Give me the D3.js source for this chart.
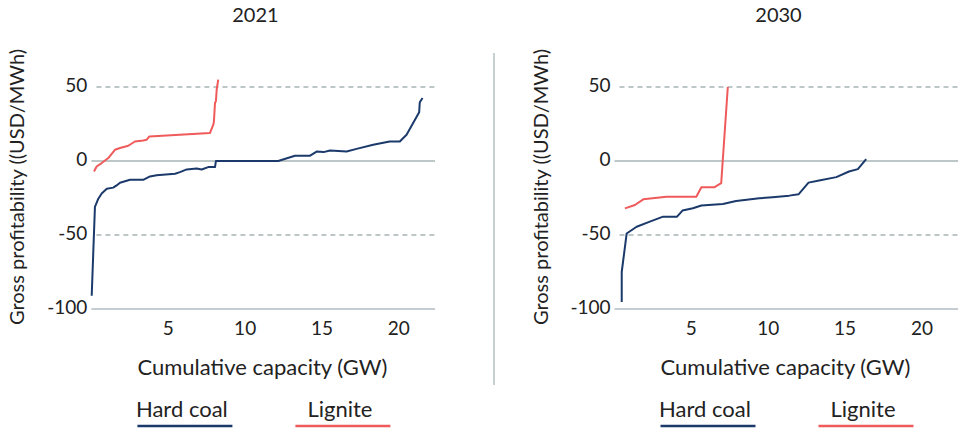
<!DOCTYPE html>
<html>
<head>
<meta charset="utf-8">
<script src="https://cdn.jsdelivr.net/npm/d3@7"></script>
<style>
  html, body { margin: 0; padding: 0; background: #fff; }
  svg { display: block; }
  text { font-family: Lato, "Open Sans", sans-serif; fill: #222; }
</style>
</head>
<body>
<svg id="chart" width="965" height="430"></svg>
<script>
// Cumulative capacity (GW) vs gross profitability (USD/MWh), plants sorted by profitability
const years = ["2021", "2030"];
const xTicks = [5, 10, 15, 20];
const yTicks = [50, 0, -50, -100];
const seriesNames = ["Hard coal", "Lignite"];
const seriesColors = ["#1b3a6b", "#ef5a5b"];

const hardCoal2021X = [0.02, 0.23, 0.45, 0.67, 1.0, 1.42, 1.64, 1.86, 2.51, 3.37, 3.81, 4.24, 5.44, 5.76, 6.2, 6.85, 7.17, 7.6, 8.04, 8.1, 12.15, 13.24, 14.2, 14.65, 15.1, 15.52, 16.6, 17.25, 18.33, 19.4, 20.06, 20.5, 21.32, 21.36, 21.54];
const hardCoal2021Y = [-91, -31, -25.5, -22, -18.8, -18, -16.5, -14.7, -12.7, -12.7, -10.4, -9.7, -8.6, -7.5, -5.7, -5, -5.7, -4.1, -4.1, 0, 0, 3.5, 3.5, 6.4, 6, 7.1, 6.4, 8.2, 11, 13.2, 13.2, 17.7, 32.9, 39.7, 42.6];

const lignite2021X = [0.17, 0.34, 0.67, 1.1, 1.53, 1.86, 2.4, 2.83, 3.37, 3.6, 3.77, 7.71, 7.93, 7.97, 8.04, 8.1, 8.15, 8.25];
const lignite2021Y = [-7.1, -3.7, -1.4, 2, 7.6, 8.8, 10.3, 13.2, 13.9, 14.4, 16.6, 18.9, 24.5, 26.8, 39.3, 40.4, 48.3, 55];

const hardCoal2030X = [0.47, 0.47, 0.79, 1.44, 2.3, 3.16, 4.07, 4.42, 5.1, 5.65, 7.05, 7.91, 9.42, 10.28, 11.37, 11.97, 12.62, 13.31, 14.43, 15.25, 15.83, 16.37];
const hardCoal2030Y = [-95.3, -75, -49, -44.4, -41, -37.6, -37.6, -33.5, -31.9, -30.1, -29, -27, -25.2, -24.5, -23.4, -22.5, -14.6, -13.2, -10.9, -7.1, -5.5, 1.3];

const lignite2030X = [0.68, 1.33, 1.87, 3.38, 5.32, 5.65, 6.51, 6.94, 7.37];
const lignite2030Y = [-32, -29.7, -25.9, -24.1, -24.1, -17.7, -17.7, -15, 50];

const panels = [
  { year: years[0], left: 91.4, series: [[hardCoal2021X, hardCoal2021Y], [lignite2021X, lignite2021Y]] },
  { year: years[1], left: 614.5, series: [[hardCoal2030X, hardCoal2030Y], [lignite2030X, lignite2030Y]] }
];

const svg = d3.select("#chart");
const plotWidth = 343.6;
const xMax = 22.35;
const y = d3.scaleLinear().domain([-100, 50]).range([309, 87]);

// divider between the two panels
svg.append("line")
  .attr("x1", 494).attr("x2", 494).attr("y1", 53).attr("y2", 385)
  .attr("stroke", "#b3bfc2").attr("stroke-width", 1.5);

panels.forEach(p => {
  const x = d3.scaleLinear().domain([0, xMax]).range([p.left, p.left + plotWidth]);
  const g = svg.append("g");

  // panel title
  g.append("text")
    .attr("x", p.left + 164).attr("y", 22)
    .attr("text-anchor", "middle").attr("font-size", 20)
    .text(p.year);

  // horizontal reference lines
  g.selectAll("line.grid").data(yTicks).join("line")
    .attr("class", "grid")
    .attr("x1", d => (d === 50 || d === -50) ? x(0) + 5 : x(0))
    .attr("x2", x(xMax))
    .attr("y1", d => y(d)).attr("y2", d => y(d))
    .attr("stroke", d => d === -100 ? "#8c9ca6" : "#7f8f8f")
    .attr("stroke-width", 1.2)
    .attr("stroke-dasharray", d => (d === 50 || d === -50) ? "5,4" : null);

  // y tick labels
  g.selectAll("text.ytick").data(yTicks).join("text")
    .attr("class", "ytick")
    .attr("x", x(0) - 4).attr("y", d => y(d) - 2)
    .attr("dy", "0.35em")
    .attr("text-anchor", "end").attr("font-size", 19)
    .text(d => d);

  // x tick labels
  g.selectAll("text.xtick").data(xTicks).join("text")
    .attr("class", "xtick")
    .attr("x", d => x(d)).attr("y", 328)
    .attr("dy", "0.35em")
    .attr("text-anchor", "middle").attr("font-size", 19)
    .text(d => d);

  // axis titles
  g.append("text")
    .attr("x", p.left + 171).attr("y", 367).attr("dy", "0.35em")
    .attr("text-anchor", "middle").attr("font-size", 22)
    .text("Cumulative capacity (GW)");

  g.append("text")
    .attr("transform", `translate(${p.left - 74},187) rotate(-90)`)
    .attr("text-anchor", "middle").attr("dy", "0.35em").attr("font-size", 20)
    .text("Gross profitability ((USD/MWh)");

  // supply curves
  const line = d3.line().x(d => x(d[0])).y(d => y(d[1]));
  p.series.forEach((s, i) => {
    const pts = s[0].map((v, k) => [v, s[1][k]]);
    g.append("path")
      .attr("d", line(pts))
      .attr("fill", "none")
      .attr("stroke", seriesColors[i])
      .attr("stroke-width", 2)
      .attr("stroke-linejoin", "round");
  });

  // legend
  const legendItems = [
    { name: seriesNames[0], color: seriesColors[0], x1: p.left + 46, x2: p.left + 141 },
    { name: seriesNames[1], color: seriesColors[1], x1: p.left + 204, x2: p.left + 299 }
  ];
  legendItems.forEach(it => {
    g.append("line")
      .attr("x1", it.x1).attr("x2", it.x2).attr("y1", 426).attr("y2", 426)
      .attr("stroke", it.color).attr("stroke-width", 2.5);
    g.append("text")
      .attr("x", (it.x1 + it.x2) / 2 - 3).attr("y", 417)
      .attr("text-anchor", "middle").attr("font-size", 22)
      .text(it.name);
  });
});
</script>
</body>
</html>
